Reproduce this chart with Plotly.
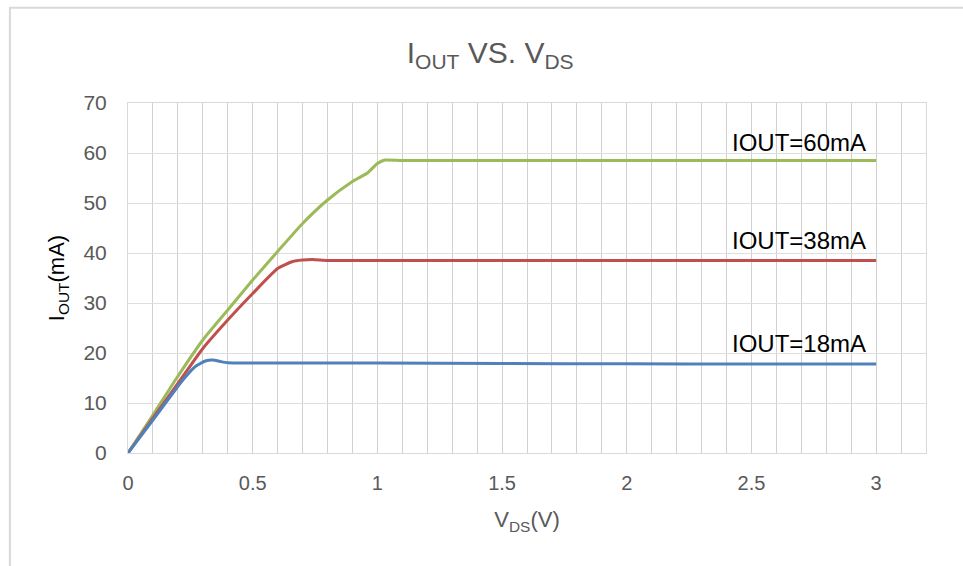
import plotly.graph_objects as go

# V_DS (V) sample points and I_OUT (mA)
v_60 = [0.0, 0.1, 0.19, 0.3, 0.4, 0.5, 0.6, 0.7, 0.8, 0.9, 0.96, 1.0, 1.03, 1.1, 1.5, 2.0, 2.5, 3.0]
i_60 = [0.0, 7.6, 14.6, 22.6, 28.6, 34.6, 40.3, 45.9, 50.6, 54.3, 56.0, 57.9, 58.6, 58.5, 58.5, 58.5, 58.5, 58.5]

v_38 = [0.0, 0.1, 0.21, 0.3, 0.4, 0.5, 0.6, 0.66, 0.7, 0.74, 0.8, 1.0, 1.5, 2.0, 2.5, 3.0]
i_38 = [0.0, 7.0, 14.6, 20.9, 26.6, 31.9, 36.9, 38.3, 38.6, 38.7, 38.5, 38.5, 38.5, 38.5, 38.5, 38.5]

v_18 = [0.0, 0.1, 0.22, 0.27, 0.31, 0.34, 0.37, 0.4, 0.7, 1.0, 1.5, 2.0, 2.5, 3.0]
i_18 = [0.0, 6.6, 14.6, 17.3, 18.4, 18.6, 18.3, 18.05, 18.0, 18.0, 17.9, 17.85, 17.8, 17.8]

labels = ["IOUT=60mA", "IOUT=38mA", "IOUT=18mA"]
label_x = [2.415, 2.415, 2.415]
label_y = [62.2, 42.6, 22.0]

x_ticks = [0, 0.5, 1, 1.5, 2, 2.5, 3]
y_ticks = [0, 10, 20, 30, 40, 50, 60, 70]

font_main = "Liberation Sans, Arial, sans-serif"

fig = go.Figure()
for vx, iy, col in [(v_60, i_60, "#9BBB59"), (v_38, i_38, "#C0504D"), (v_18, i_18, "#4F81BD")]:
    fig.add_trace(go.Scatter(x=vx, y=iy, mode="lines",
                             line=dict(color=col, width=3, shape="spline", smoothing=0.5),
                             showlegend=False, hoverinfo="skip"))

for t, x, y in zip(labels, label_x, label_y):
    fig.add_annotation(x=x, y=y, text=t, showarrow=False, xanchor="left", yanchor="middle",
                       font=dict(family=font_main, size=24, color="#000000"))

# chart area border
fig.add_shape(type="rect", xref="paper", yref="paper", x0=-0.148, x1=1.3, y0=-0.6, y1=1.272,
              line=dict(color="#D9D9D9", width=2), layer="below")

fig.update_layout(
    width=963, height=566,
    margin=dict(l=128, r=37, t=103, b=113),
    paper_bgcolor="white", plot_bgcolor="white",
    title=dict(text="I<sub>OUT</sub> VS. V<sub>DS</sub>", x=0.509, xanchor="center",
               y=0.908, yanchor="middle",
               font=dict(family=font_main, size=30, color="#595959")),
    xaxis=dict(range=[0, 3.2], tickvals=x_ticks, ticktext=[str(v) for v in x_ticks],
               showgrid=True, gridcolor="#D0D0D0", gridwidth=1,
               minor=dict(dtick=0.1, showgrid=True, gridcolor="#D0D0D0", gridwidth=1),
               showline=True, linecolor="#D9D9D9", mirror=True, zeroline=False,
               ticks="outside", ticklen=12, tickcolor="rgba(0,0,0,0)",
               tickfont=dict(family=font_main, size=20, color="#595959"),
               title=dict(text="V<sub>DS</sub>(V)", standoff=18,
                          font=dict(family=font_main, size=22, color="#595959"))),
    yaxis=dict(range=[0, 70], tickvals=y_ticks, showgrid=True, gridcolor="#DEDEDE", gridwidth=1,
               showline=True, linecolor="#D9D9D9", mirror=True, zeroline=False,
               ticks="outside", ticklen=16, tickcolor="rgba(0,0,0,0)",
               tickfont=dict(family=font_main, size=21, color="#595959"),
               title=dict(text="I<sub>OUT</sub>(mA)", standoff=12,
                          font=dict(family=font_main, size=22, color="#000000"))),
)

fig.write_html("out.html", config={"displayModeBar": False},
               post_script="document.body.style.margin='0px';")
